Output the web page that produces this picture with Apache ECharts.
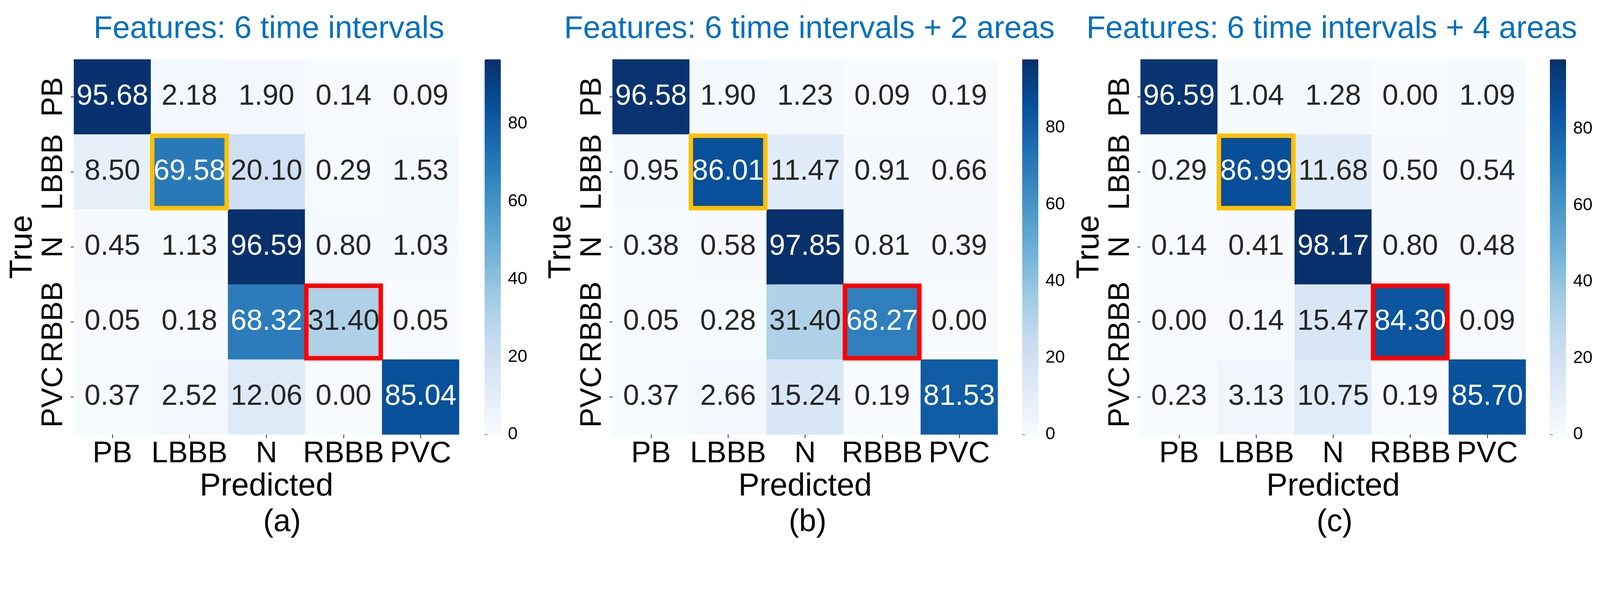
<!DOCTYPE html>
<html>
<head>
<meta charset="utf-8">
<script src="https://cdn.jsdelivr.net/npm/echarts@6/dist/echarts.min.js"></script>
<style>
  html, body { margin: 0; padding: 0; background: #fff; overflow: hidden; }
  #chart { width: 100vw; height: 100vh; }
</style>
</head>
<body>
<div id="chart"></div>
<script>
// class labels, same order on both axes
const classes = ["PB", "LBBB", "N", "RBBB", "PVC"];

// confusion matrices in percent, rows = true class, cols = predicted class
const matrixA = [
  [95.68, 2.18, 1.90, 0.14, 0.09],
  [8.50, 69.58, 20.10, 0.29, 1.53],
  [0.45, 1.13, 96.59, 0.80, 1.03],
  [0.05, 0.18, 68.32, 31.40, 0.05],
  [0.37, 2.52, 12.06, 0.00, 85.04],
];
const matrixB = [
  [96.58, 1.90, 1.23, 0.09, 0.19],
  [0.95, 86.01, 11.47, 0.91, 0.66],
  [0.38, 0.58, 97.85, 0.81, 0.39],
  [0.05, 0.28, 31.40, 68.27, 0.00],
  [0.37, 2.66, 15.24, 0.19, 81.53],
];
const matrixC = [
  [96.59, 1.04, 1.28, 0.00, 1.09],
  [0.29, 86.99, 11.68, 0.50, 0.54],
  [0.14, 0.41, 98.17, 0.80, 0.48],
  [0.00, 0.14, 15.47, 84.30, 0.09],
  [0.23, 3.13, 10.75, 0.19, 85.70],
];

const titles = [
  "Features: 6 time intervals",
  "Features: 6 time intervals + 2 areas",
  "Features: 6 time intervals + 4 areas",
];
const captions = ["(a)", "(b)", "(c)"];
const colorbarTicks = [0, 20, 40, 60, 80];

// highlighted cells [predicted, true]
const highlightCells = [[1, 1], [3, 3]];
const highlightColors = ["#FFC000", "#FF0000"];

const matrices = [matrixA, matrixB, matrixC];

// layout is designed for a 4527 x 1515 page and scaled to the real viewport
// (the browser may cap the width)
const dom = document.getElementById("chart");
const sx = dom.clientWidth / 4527;
const sy = dom.clientHeight / 1515;
const X = (v) => v * sx;
const Y = (v) => v * sy;
const F = (v) => v * (sx + sy) / 2;

const FONT = "'Liberation Sans', Arial, sans-serif";
const TOP = 152, HM_W = 1090, HM_H = 960, CB_W = 46;
const panels = [
  { left: 209, cbLeft: 1371, titleX: 761, capX: 798 },
  { left: 1733, cbLeft: 2892, titleX: 2290, capX: 2285 },
  { left: 3227, cbLeft: 4385, titleX: 3768, capX: 3776 },
];
const blues = ["#f7fbff", "#deebf7", "#c6dbef", "#9ecae1", "#6baed6",
               "#4292c6", "#2171b5", "#08519c", "#08306b"];

const option = {
  backgroundColor: "#fff",
  animation: false,
  title: [],
  grid: [],
  xAxis: [],
  yAxis: [],
  visualMap: [],
  series: [],
};

const tickStyle = { color: "#222", width: F(2) };

matrices.forEach((m, i) => {
  const p = panels[i];
  const vmax = Math.max(...m.flat());

  option.title.push({
    text: titles[i], left: X(p.titleX), top: Y(35), padding: 0, textAlign: "center",
    textStyle: { fontFamily: FONT, fontSize: F(84), fontWeight: "normal", color: "#0070C0" },
  });
  option.title.push({
    text: captions[i], left: X(p.capX), top: Y(1298), padding: 0, textAlign: "center",
    textStyle: { fontFamily: FONT, fontSize: F(83), fontWeight: "normal", color: "#000" },
  });

  // heatmap grid + colorbar grid
  option.grid.push({ left: X(p.left), top: Y(TOP), width: X(HM_W), height: Y(HM_H) });
  option.grid.push({ left: X(p.cbLeft), top: Y(TOP), width: X(CB_W), height: Y(HM_H) });

  option.xAxis.push({
    type: "category", gridIndex: 2 * i, data: classes,
    name: "Predicted", nameLocation: "middle", nameGap: Y(91),
    nameTextStyle: { fontFamily: FONT, fontSize: F(85), color: "#000" },
    axisLine: { show: false },
    axisTick: { show: true, alignWithLabel: true, length: Y(9), lineStyle: tickStyle },
    axisLabel: { interval: 0, fontFamily: FONT, fontSize: F(80), color: "#000", margin: Y(12) },
    splitLine: { show: false },
  });
  option.yAxis.push({
    type: "category", gridIndex: 2 * i, data: classes, inverse: true,
    name: "True", nameLocation: "middle", nameGap: X(82), nameRotate: 90,
    nameTextStyle: { fontFamily: FONT, fontSize: F(85), color: "#000" },
    axisLine: { show: false },
    axisTick: { show: true, alignWithLabel: true, length: X(9), lineStyle: tickStyle },
    axisLabel: { interval: 0, fontFamily: FONT, fontSize: F(80), color: "#000", margin: X(14), rotate: 90 },
    splitLine: { show: false },
  });

  option.xAxis.push({ type: "value", gridIndex: 2 * i + 1, show: false, min: 0, max: 1 });
  option.yAxis.push({
    type: "value", gridIndex: 2 * i + 1, position: "right", min: 0, max: vmax,
    axisLine: { show: false },
    axisTick: { show: true, length: X(9), customValues: colorbarTicks, lineStyle: tickStyle },
    axisLabel: { fontFamily: FONT, fontSize: F(47), color: "#000", margin: X(20), customValues: colorbarTicks },
    splitLine: { show: false },
  });

  const data = [];
  m.forEach((row, r) => row.forEach((v, c) => {
    data.push({
      value: [c, r, v],
      label: { color: v > vmax * 0.5 ? "#ffffff" : "#262626" },
    });
  }));

  const hmIndex = option.series.length;
  option.series.push({
    type: "heatmap", xAxisIndex: 2 * i, yAxisIndex: 2 * i, data,
    label: {
      show: true, fontFamily: FONT, fontSize: F(77),
      formatter: (d) => d.value[2].toFixed(2),
    },
    emphasis: { disabled: true },
  });
  option.series.push({
    type: "custom", xAxisIndex: 2 * i, yAxisIndex: 2 * i, z: 5,
    data: highlightCells.map((c, k) => [c[0], c[1], k]),
    renderItem: (params, api) => {
      const ctr = api.coord([api.value(0), api.value(1)]);
      const sz = api.size([1, 1]);
      const inset = F(3.5);
      return {
        type: "rect",
        shape: { x: ctr[0] - sz[0] / 2 + inset, y: ctr[1] - sz[1] / 2 + inset,
                 width: sz[0] - 2 * inset, height: sz[1] - 2 * inset },
        style: { fill: "none", stroke: highlightColors[api.value(2)], lineWidth: F(12) },
      };
    },
  });
  option.series.push({ type: "line", xAxisIndex: 2 * i + 1, yAxisIndex: 2 * i + 1, data: [] });

  option.visualMap.push({
    type: "continuous", min: 0, max: vmax, calculable: false, seriesIndex: hmIndex,
    orient: "vertical", left: X(p.cbLeft), top: Y(TOP), padding: 0,
    itemWidth: X(CB_W), itemHeight: Y(HM_H), text: null,
    inRange: { color: blues },
  });
});

const chart = echarts.init(dom, null, { renderer: "canvas" });
chart.setOption(option);
</script>
</body>
</html>
